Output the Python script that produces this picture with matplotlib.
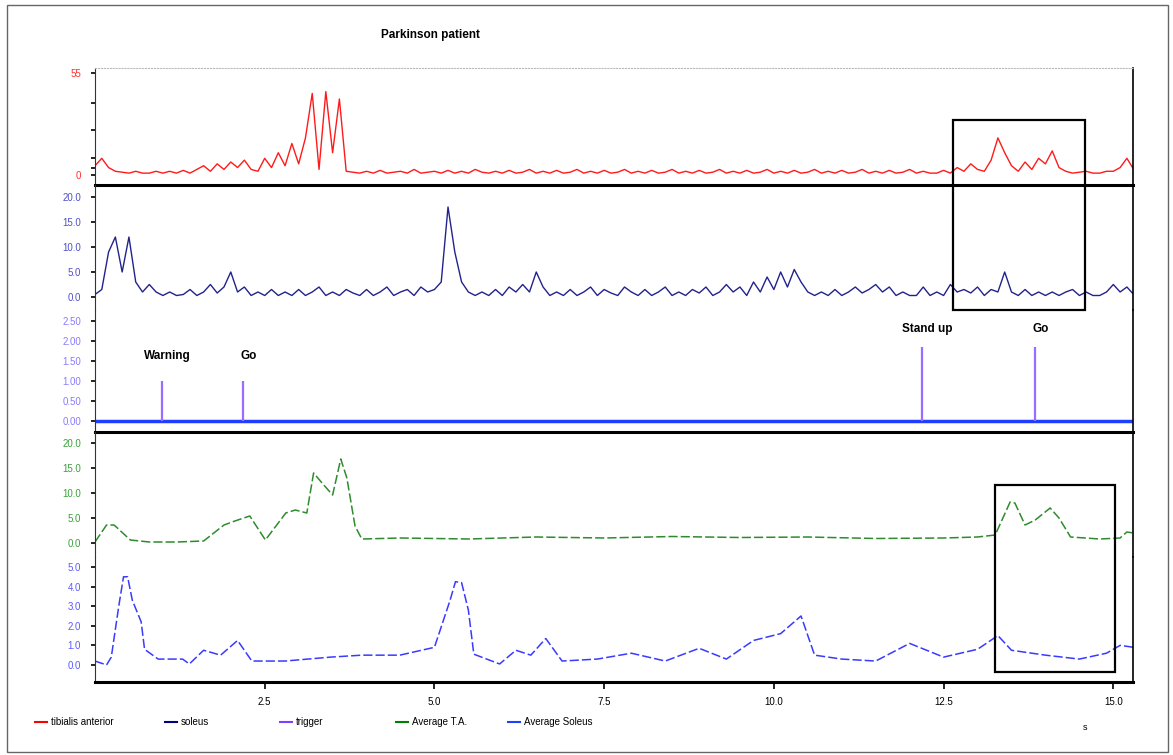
import numpy as np
import matplotlib.pyplot as plt
from matplotlib.patches import Rectangle
from matplotlib.lines import Line2D

plt.rcParams['font.family'] = ['Liberation Sans', 'DejaVu Sans']

# EMG samples every 0.1 s (0.0 .. 15.3 s)
emg_t = np.round(np.arange(154) * 0.1, 2)

tibialis = [
    5, 9, 4, 2, 1.5, 1, 2, 1, 1, 2,
    1, 2, 1, 2.5, 1, 3, 5, 2, 6, 3,
    7, 4, 8, 3, 2, 9, 4, 12, 5, 17,
    6, 20, 44, 3, 45, 12, 41, 2, 1.5, 1,
    2, 1, 2.5, 1, 1.5, 2, 1, 3, 1, 1.5,
    2, 1, 2.5, 1, 2, 1, 3, 1.5, 1, 2,
    1, 2.5, 1, 1.5, 3, 1, 2, 1, 2.5, 1,
    1.5, 3, 1, 2, 1, 2.5, 1, 1.5, 3, 1,
    2, 1, 2.5, 1, 1.5, 3, 1, 2, 1, 2.5,
    1, 1.5, 3, 1, 2, 1, 2.5, 1, 1.5, 3,
    1, 2, 1, 2.5, 1, 1.5, 3, 1, 2, 1,
    2.5, 1, 1.5, 3, 1, 2, 1, 2.5, 1, 1.5,
    3, 1, 2, 1, 1, 2.5, 1, 4, 2, 6,
    3, 2, 8, 20, 12, 5, 2, 7, 3, 9,
    6, 13, 4, 2, 1, 1.5, 2, 1, 1, 2,
    2, 4, 9, 3,
]

soleus = [
    0.5, 1.5, 9, 12, 5, 12, 3, 1, 2.5, 1,
    0.3, 1, 0.3, 0.5, 1.5, 0.3, 1, 2.5, 0.8, 2,
    5, 1, 2, 0.3, 1, 0.3, 1.5, 0.3, 1, 0.3,
    1.5, 0.3, 1, 2, 0.3, 1, 0.3, 1.5, 0.8, 0.3,
    1.5, 0.3, 1, 2, 0.3, 1, 1.5, 0.3, 2, 1,
    1.5, 3, 18, 9, 3, 1, 0.3, 1, 0.3, 1.5,
    0.3, 2, 1, 2.5, 1, 5, 2, 0.3, 1, 0.3,
    1.5, 0.3, 1, 2, 0.3, 1.5, 0.8, 0.3, 2, 1,
    0.3, 1.5, 0.3, 1, 2, 0.3, 1, 0.3, 1.5, 0.8,
    2, 0.3, 1, 2.5, 1, 2, 0.3, 3, 1, 4,
    1.5, 5, 2, 5.5, 3, 1, 0.3, 1, 0.3, 1.5,
    0.3, 1, 2, 0.8, 1.5, 2.5, 1, 2, 0.3, 1,
    0.3, 0.3, 2, 0.3, 1, 0.3, 2.5, 1, 1.5, 0.8,
    2, 0.3, 1.5, 1, 5, 1, 0.3, 1.5, 0.3, 1,
    0.3, 1, 0.3, 1, 1.5, 0.3, 1, 0.3, 0.3, 1,
    2.5, 1, 2, 0.5,
]

# trigger events
trig_t = [0.98, 2.18, 12.18, 13.85]
trig_h = [1.0, 1.0, 1.85, 1.85]
trig_labels = ['Warning', 'Go', 'Stand up', 'Go']

# moving averages
avg_ta_t = [0, 0.17, 0.28, 0.33, 0.52, 0.8, 1.2, 1.6, 1.75, 1.9, 2.06, 2.28, 2.51,
            2.81, 2.95, 3.12, 3.22, 3.37, 3.5, 3.62, 3.71, 3.83, 3.93, 4.5, 5.5,
            6.5, 7.5, 8.5, 9.5, 10.5, 11.5, 12.5, 13.0, 13.26, 13.48, 13.55, 13.7,
            13.85, 14.07, 14.2, 14.37, 14.8, 15.1, 15.2, 15.3]
avg_ta_v = [0.2, 3.6, 3.6, 3.0, 0.6, 0.2, 0.2, 0.4, 2.0, 3.6, 4.4, 5.4, 0.6,
            6.0, 6.6, 6.0, 14.0, 11.6, 9.6, 16.8, 13.0, 3.4, 0.8, 1.0, 0.8,
            1.2, 1.0, 1.3, 1.1, 1.2, 0.9, 1.0, 1.2, 1.6, 8.2, 8.0, 3.6,
            4.6, 7.0, 5.0, 1.2, 0.8, 1.0, 2.2, 2.0]

avg_so_t = [0, 0.17, 0.24, 0.35, 0.42, 0.48, 0.55, 0.68, 0.73, 0.93, 1.29, 1.39, 1.6,
            1.85, 2.1, 2.31, 2.8, 3.47, 3.93, 4.49, 5.0, 5.23, 5.31, 5.4, 5.5, 5.58,
            5.96, 6.2, 6.42, 6.64, 6.88, 7.4, 7.9, 8.4, 8.9, 9.3, 9.7, 10.1, 10.4,
            10.6, 11.0, 11.5, 12.0, 12.5, 13.0, 13.3, 13.5, 14.0, 14.5, 14.9, 15.1, 15.3]
avg_so_v = [0.2, 0.0, 0.4, 3.0, 4.5, 4.5, 3.3, 2.2, 0.8, 0.3, 0.3, 0.05, 0.75,
            0.5, 1.25, 0.2, 0.2, 0.4, 0.5, 0.5, 0.9, 3.3, 4.25, 4.2, 2.8, 0.55,
            0.05, 0.75, 0.5, 1.35, 0.2, 0.3, 0.6, 0.2, 0.85, 0.3, 1.25, 1.6, 2.5,
            0.5, 0.3, 0.2, 1.1, 0.4, 0.8, 1.5, 0.75, 0.5, 0.3, 0.6, 1.0, 0.9]

x_ticks = [2.5, 5.0, 7.5, 10.0, 12.5, 15.0]
x_ticklabels = ['2.5', '5.0', '7.5', '10.0', '12.5', '15.0']

legend_names = ['tibialis anterior', 'soleus', 'trigger', 'Average T.A.', 'Average Soleus']
legend_colors = ['#ff0000', '#000080', '#7f3fff', '#008000', '#1f3fff']

W, H = 1173, 755
fig = plt.figure(figsize=(W / 100, H / 100), dpi=100)

def px(y):
    return 1 - y / H

left, right = 95 / W, 1133 / W
bounds = [(68, 185), (185, 310), (310, 432), (432, 557), (557, 682)]
axes = []
for top, bot in bounds:
    ax = fig.add_axes([left, px(bot), right - left, (bot - top) / H])
    ax.patch.set_visible(False)
    ax.set_xlim(0, 15.29)
    for s in ax.spines.values():
        s.set_visible(False)
    ax.spines['left'].set_visible(True)
    ax.spines['left'].set_color('#333333')
    ax.spines['right'].set_visible(True)
    ax.spines['right'].set_linewidth(1.2)
    ax.tick_params(axis='y', length=3, width=1.2, labelsize=7, pad=7)
    ax.tick_params(axis='x', bottom=False, labelbottom=False)
    axes.append(ax)

ax1, ax2, ax3, ax4, ax5 = axes

# panel 1: tibialis anterior
ax1.plot(emg_t, tibialis, color='#ff1a1a', lw=1)
ax1.set_ylim(-5.4, 57.7)
ax1.set_yticks([0, 55])
ax1.set_yticklabels(['0', '55'])
ax1.set_yticks([4, 9, 24, 39], minor=True)
ax1.tick_params(axis='y', which='minor', length=3, width=1.2)
ax1.tick_params(axis='y', labelcolor='#ff3030')
ax1.spines['top'].set_visible(True)
ax1.spines['top'].set_linestyle(':')
ax1.spines['top'].set_color('#bbbbbb')
ax1.spines['bottom'].set_visible(True)
ax1.spines['bottom'].set_linewidth(2.2)

# panel 2: soleus
ax2.plot(emg_t, soleus, color='#22228c', lw=1)
ax2.set_ylim(-2.6, 22.4)
ax2.set_yticks([0, 5, 10, 15, 20])
ax2.set_yticklabels(['0.0', '5.0', '10.0', '15.0', '20.0'])
ax2.tick_params(axis='y', labelcolor='#5050c8')

# panel 3: trigger
ax3.axhline(0, color='#1f3fff', lw=2.5)
ax3.vlines(trig_t, 0, trig_h, color='#9a6cff', lw=1.6)
for t, h, lab in zip(trig_t, trig_h, trig_labels):
    ax3.text(t + 0.08, h + 0.62 if h < 1.5 else h + 0.45, lab, ha='center', va='center',
             fontsize=8.5, fontweight='bold')
ax3.set_ylim(-0.275, 2.775)
ax3.set_yticks([0, 0.5, 1.0, 1.5, 2.0, 2.5])
ax3.set_yticklabels(['0.00', '0.50', '1.00', '1.50', '2.00', '2.50'])
ax3.tick_params(axis='y', labelcolor='#8a7cff')
ax3.spines['bottom'].set_visible(True)
ax3.spines['bottom'].set_linewidth(2.2)

# panel 4: average T.A.
ax4.plot(avg_ta_t, avg_ta_v, color='#2e8b2e', lw=1.1, linestyle=(0, (6, 2)))
ax4.set_ylim(-2.8, 22.2)
ax4.set_yticks([0, 5, 10, 15, 20])
ax4.set_yticklabels(['0.0', '5.0', '10.0', '15.0', '20.0'])
ax4.tick_params(axis='y', labelcolor='#3aa03a')

# panel 5: average soleus
ax5.plot(avg_so_t, avg_so_v, color='#3a3aff', lw=1.1, linestyle=(0, (6, 2)))
ax5.set_ylim(-0.87, 5.51)
ax5.set_yticks([0, 1, 2, 3, 4, 5])
ax5.set_yticklabels(['0.0', '1.0', '2.0', '3.0', '4.0', '5.0'])
ax5.tick_params(axis='y', labelcolor='#5a5aff')
ax5.spines['bottom'].set_visible(True)
ax5.spines['bottom'].set_linewidth(2.2)
ax5.set_xticks(x_ticks)
ax5.set_xticklabels(x_ticklabels)
ax5.tick_params(axis='x', bottom=True, labelbottom=True, length=5, width=1.2,
                labelsize=7, pad=6)

# highlight boxes (time range, from axis/value, to axis/value)
to_fig = fig.transFigure.inverted()

def box(t0, t1, ax_top, v_top, ax_bot, v_bot):
    x0, y1 = to_fig.transform(ax_top.transData.transform((t0, v_top)))
    x1, y0 = to_fig.transform(ax_bot.transData.transform((t1, v_bot)))
    fig.add_artist(Rectangle((x0, y0), x1 - x0, y1 - y0, transform=fig.transFigure,
                             fill=False, lw=1.6, edgecolor='black'))

box(12.64, 14.58, ax1, 29.6, ax2, -2.6)
box(13.26, 15.03, ax4, 11.6, ax5, -0.35)

# title, unit, legend
fig.text(430 / W, px(35), 'Parkinson patient', ha='center', va='center',
         fontsize=8.5, fontweight='bold')
fig.text(1085 / W, px(727), 's', ha='center', va='center', fontsize=6.5)

leg_x = [35, 165, 280, 396, 508]
for x, name, c in zip(leg_x, legend_names, legend_colors):
    fig.legend(handles=[Line2D([], [], color=c, lw=1.5)], labels=[name],
               loc='center left', bbox_to_anchor=(x / W, px(722)), frameon=False,
               fontsize=7, handlelength=1.2, handletextpad=0.4, borderpad=0,
               borderaxespad=0)

fig.add_artist(Rectangle((7 / W, 0.004), 1 - 12 / W, 1 - 5 / H - 0.004,
                         transform=fig.transFigure, fill=False, lw=1, edgecolor='#666666'))

fig.savefig('out.png', dpi=100, facecolor='white')
